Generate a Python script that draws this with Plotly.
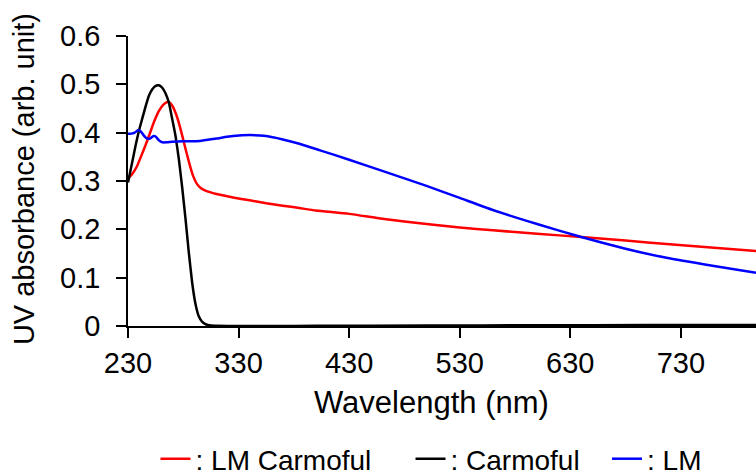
import plotly.graph_objects as go

# ---- data ----
carm_wl = [230, 233, 237, 240, 243, 246, 249, 252, 255, 258, 261, 264, 267, 270, 273, 276,
           279, 282, 285, 288, 291, 294, 297, 300, 305, 310, 330, 360, 400, 500, 600, 700, 798]
carm_abs = [0.297, 0.33, 0.375, 0.405, 0.43, 0.455, 0.477, 0.490, 0.497, 0.498, 0.493, 0.481,
            0.462, 0.428, 0.393, 0.345, 0.287, 0.222, 0.152, 0.09, 0.046, 0.02, 0.009, 0.004,
            0.001, 0.0005, 0.0, 0.0, 0.0005, 0.001, 0.0015, 0.002, 0.002]

lmc_wl = [230, 234, 238, 242, 246, 250, 254, 258, 262, 265, 268, 271, 274, 277, 280, 283, 286,
          289, 292, 296, 300, 310, 325, 340, 355, 370, 385, 400, 430, 460, 500, 530, 560, 600,
          640, 680, 720, 760, 798]
lmc_abs = [0.305, 0.315, 0.33, 0.352, 0.375, 0.40, 0.425, 0.445, 0.458, 0.463, 0.462, 0.452,
           0.435, 0.412, 0.385, 0.358, 0.332, 0.31, 0.295, 0.285, 0.28, 0.273, 0.266, 0.26,
           0.254, 0.249, 0.244, 0.239, 0.232, 0.222, 0.211, 0.204, 0.198, 0.191, 0.184, 0.177,
           0.169, 0.162, 0.155]

lm_wl = [230, 233, 236, 239, 241, 244, 247, 250, 253, 255, 258, 261, 265, 270, 280, 295, 310,
         325, 340, 355, 370, 385, 403, 430, 460, 500, 530, 560, 600, 640, 680, 717, 760, 798]
lm_abs = [0.398, 0.398, 0.400, 0.405, 0.404, 0.395, 0.388, 0.388, 0.393, 0.392, 0.384, 0.380,
          0.380, 0.381, 0.382, 0.383, 0.388, 0.393, 0.395, 0.393, 0.386, 0.377, 0.364, 0.344,
          0.321, 0.290, 0.265, 0.240, 0.211, 0.184, 0.160, 0.141, 0.124, 0.110]

x_ticks = [230, 330, 430, 530, 630, 730]
y_ticks = [0, 0.1, 0.2, 0.3, 0.4, 0.5, 0.6]
y_tick_text = ["0", "0.1", "0.2", "0.3", "0.4", "0.5", "0.6"]

FONT = "Liberation Sans, Arial, sans-serif"

fig = go.Figure()
fig.add_trace(go.Scatter(x=lmc_wl, y=lmc_abs, mode="lines", name=": LM Carmoful",
                         line=dict(color="#FF0000", width=2.5, shape="spline", smoothing=0.5),
                         legend="legend"))
fig.add_trace(go.Scatter(x=carm_wl, y=carm_abs, mode="lines", name=": Carmoful",
                         line=dict(color="#000000", width=2.5, shape="spline", smoothing=0.3),
                         legend="legend2"))
fig.add_trace(go.Scatter(x=lm_wl, y=lm_abs, mode="lines", name=": LM",
                         line=dict(color="#0000FF", width=2.5, shape="spline", smoothing=0.5),
                         legend="legend3"))

leg_common = dict(orientation="h", yref="container", xref="container",
                  yanchor="middle", y=(475 - 459) / 475, xanchor="left",
                  font=dict(family=FONT, size=28, color="black"),
                  bgcolor="rgba(0,0,0,0)", borderwidth=0)

fig.update_layout(
    width=756, height=475,
    margin=dict(l=128, r=0, t=36, b=149),
    paper_bgcolor="white", plot_bgcolor="white",
    font=dict(family=FONT, size=29, color="black"),
    showlegend=True,
    legend=dict(x=155.5 / 756, **leg_common),
    legend2=dict(x=410.5 / 756, **leg_common),
    legend3=dict(x=607.0 / 756, **leg_common),
    xaxis=dict(range=[230, 798], tickvals=x_ticks, ticktext=[str(v) for v in x_ticks],
               showgrid=False, zeroline=False, showline=True, linecolor="black", linewidth=1.5,
               ticks="outside", ticklen=10, tickwidth=1.5, tickcolor="black",
               tickfont=dict(family=FONT, size=29, color="black")),
    yaxis=dict(range=[0, 0.6], tickvals=y_ticks, ticktext=y_tick_text,
               showgrid=False, zeroline=False, showline=True, linecolor="black", linewidth=1.5,
               ticks="outside", ticklen=10, tickwidth=1.5, tickcolor="black",
               ticklabelstandoff=10,
               tickfont=dict(family=FONT, size=29, color="black")),
    annotations=[
        dict(text="Wavelength (nm)", xref="paper", yref="paper", x=0.4837, y=-0.2655,
             xanchor="center", yanchor="middle", showarrow=False,
             font=dict(family=FONT, size=31, color="black")),
        dict(text="UV absorbance (arb. unit)", xref="paper", yref="paper", x=-0.1663, y=0.505,
             xanchor="center", yanchor="middle", textangle=-90, showarrow=False,
             font=dict(family=FONT, size=29, color="black")),
    ],
)

fig.write_html("out.html")
